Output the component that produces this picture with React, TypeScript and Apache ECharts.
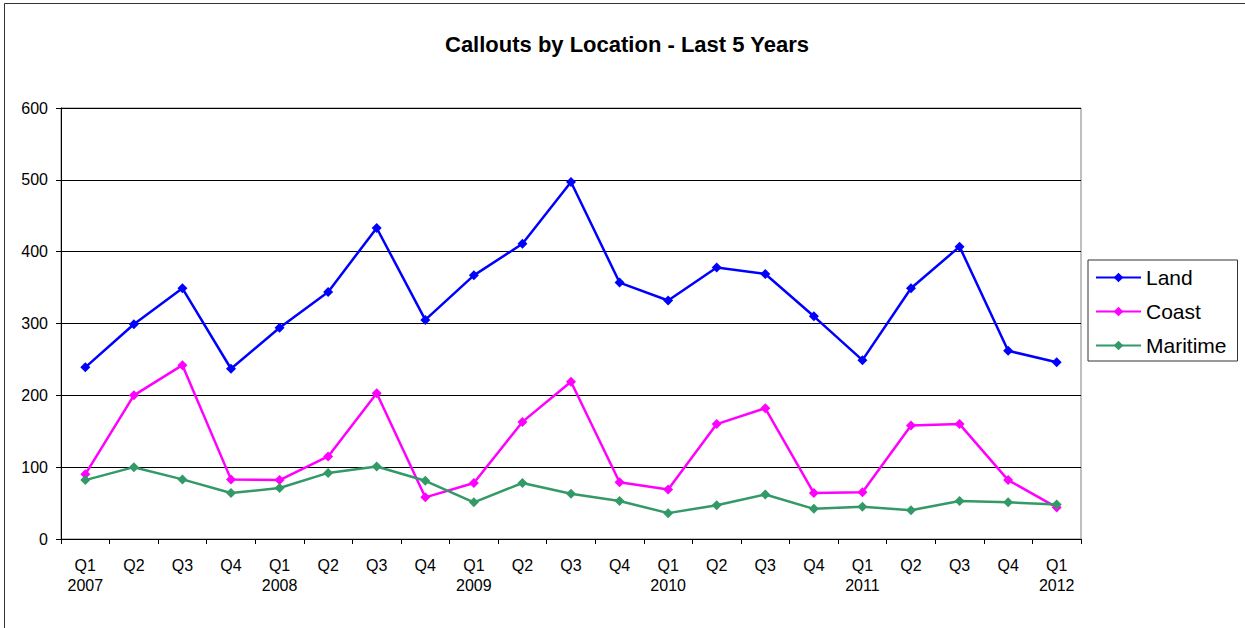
import React, { useEffect, useRef } from "react";
import * as echarts from "echarts";

const categories = [
  "Q1\n2007", "Q2", "Q3", "Q4",
  "Q1\n2008", "Q2", "Q3", "Q4",
  "Q1\n2009", "Q2", "Q3", "Q4",
  "Q1\n2010", "Q2", "Q3", "Q4",
  "Q1\n2011", "Q2", "Q3", "Q4",
  "Q1\n2012",
];

const land = [239, 299, 349, 237, 294, 344, 433, 305, 367, 411, 497, 357, 332, 378, 369, 310, 249, 349, 407, 262, 246];
const coast = [90, 200, 242, 83, 82, 115, 203, 58, 78, 163, 219, 79, 69, 160, 182, 64, 65, 158, 160, 82, 44];
const maritime = [82, 100, 83, 64, 71, 92, 101, 81, 51, 78, 63, 53, 36, 47, 62, 42, 45, 40, 53, 51, 48];

const FONT = "'Liberation Sans', Arial, sans-serif";

export default function App() {
  const ref = useRef<HTMLDivElement>(null);
  useEffect(() => {
    if (!ref.current) return;
    const chart = echarts.init(ref.current, null, { renderer: "svg" });
    const mk = (name: string, data: number[], color: string) => ({
      name,
      type: "line",
      data,
      symbol: "diamond",
      symbolSize: 10,
      lineStyle: { color, width: 2.5 },
      itemStyle: { color },
      emphasis: { disabled: true },
    });
    chart.setOption({
      animation: false,
      backgroundColor: "#fff",
      textStyle: { fontFamily: FONT },
      title: {
        text: "Callouts by Location - Last 5 Years",
        left: 445,
        top: 28,
        padding: [5, 0, 5, 0],
        textStyle: { fontFamily: FONT, fontSize: 22, fontWeight: "bold", color: "#000" },
      },
      graphic: [
        {
          type: "rect",
          shape: { x: 4.5, y: 3.5, width: 1250, height: 640 },
          style: { fill: "none", stroke: "#333", lineWidth: 1 },
          silent: true,
          z: 100,
        },
      ],
      legend: {
        orient: "vertical",
        left: 1088,
        top: 260,
        borderColor: "#333",
        borderWidth: 1,
        padding: [7, 11, 5, 7],
        itemWidth: 45,
        itemHeight: 12,
        itemGap: 13,
        textStyle: { fontFamily: FONT, fontSize: 21, color: "#000" },
        data: ["Land", "Coast", "Maritime"],
      },
      grid: {
        left: 61,
        right: 164,
        top: 108,
        bottom: 89,
        show: true,
        borderColor: "#808080",
        borderWidth: 1,
        backgroundColor: "#fff",
      },
      xAxis: {
        type: "category",
        data: categories,
        boundaryGap: true,
        axisLine: { lineStyle: { color: "#000", width: 1 } },
        axisTick: { show: true, interval: 0, length: 5, lineStyle: { color: "#000" } },
        axisLabel: {
          interval: 0,
          color: "#000",
          fontFamily: FONT,
          fontSize: 16,
          lineHeight: 20,
          margin: 16,
        },
      },
      yAxis: {
        type: "value",
        min: 0,
        max: 600,
        interval: 100,
        axisLine: { show: true, lineStyle: { color: "#000", width: 1 } },
        axisTick: { show: true, length: 5, lineStyle: { color: "#000" } },
        axisLabel: { color: "#000", fontFamily: FONT, fontSize: 16, margin: 13 },
        splitLine: { show: true, lineStyle: { color: "#000", width: 1 } },
      },
      series: [
        mk("Land", land, "#0000FF"),
        mk("Coast", coast, "#FF00FF"),
        mk("Maritime", maritime, "#339966"),
      ],
    });
    return () => chart.dispose();
  }, []);
  return <div ref={ref} style={{ width: 1245, height: 628, position: "absolute", left: 0, top: 0 }} />;
}
